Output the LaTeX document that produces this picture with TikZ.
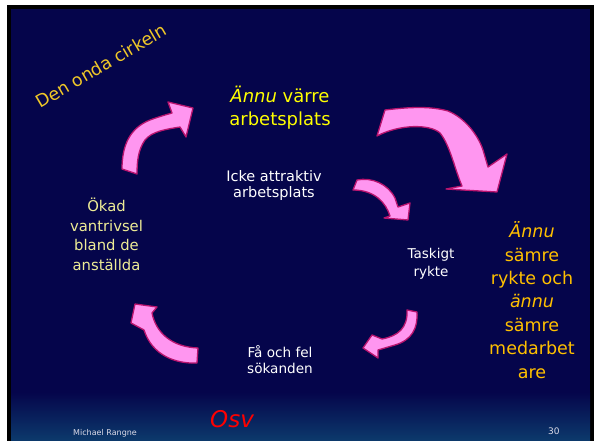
\documentclass[tikz,border=0pt]{standalone}
\usepackage{fontspec}
\setmainfont{DejaVu Sans}
\definecolor{navy}{RGB}{5,5,75}
\definecolor{footblue}{RGB}{12,58,108}
\definecolor{pinkA}{RGB}{255,150,240}
\definecolor{edgeM}{RGB}{185,20,110}
\definecolor{yelB}{RGB}{255,255,0}
\definecolor{goldT}{RGB}{240,200,40}
\definecolor{paleY}{RGB}{238,236,150}
\definecolor{orangeY}{RGB}{255,192,0}
\definecolor{footT}{RGB}{220,220,232}
\newcommand\myfs[2]{\fontsize{#1}{#2}\selectfont}
\tikzset{
  parrow/.style={fill=pinkA, draw=edgeM, line width=1.3pt, line join=round},
  txt/.style={align=center, inner sep=0pt}
}
\begin{document}
\begin{tikzpicture}[x=1pt,y=-1pt]
\useasboundingbox (0,0) rectangle (598,441);
\fill[white] (0,0) rectangle (598,441);
\fill[black] (7,5) rectangle (594,441);
\fill[navy] (11,9) rectangle (590,441);
\shade[top color=navy,bottom color=footblue] (11,392) rectangle (590,441);

% arrows
\path[parrow] (122,169) .. controls (122,145) and (130,128) .. (150,120)
  .. controls (158,117) and (165,115) .. (172,113) -- (168,102) -- (193,108)
  -- (186,137) -- (180,127) .. controls (168,129) and (152,131) .. (145,140)
  .. controls (138,150) and (137,162) .. (137,174) -- cycle;
\path[parrow] (385,110) .. controls (410,107) and (430,106) .. (448,111)
  .. controls (465,118) and (478,135) .. (483,150) -- (488,167) -- (507,154)
  -- (497,192) -- (446,189) -- (462,186) .. controls (455,170) and (450,145) .. (440,133)
  .. controls (430,124) and (400,124) .. (377,136) -- cycle;
\path[parrow] (357,180) .. controls (372,177) and (388,184) .. (395,198) -- (398,207)
  -- (410,203) -- (408,220) -- (384,218) -- (390,216)
  .. controls (386,203) and (375,190) .. (353,190) -- cycle;
\path[parrow] (407,310) -- (417,312) .. controls (418,328) and (412,340) .. (395,345)
  -- (378,350) -- (378,358) -- (363,348) -- (372,335) -- (382,339)
  .. controls (398,336) and (408,328) .. (407,310) -- cycle;
\path[parrow] (198,348) -- (197,363) .. controls (175,364) and (152,355) .. (144,330)
  -- (131,323) -- (135,304) -- (157,307) -- (152,313)
  .. controls (156,333) and (172,347) .. (198,348) -- cycle;

% texts
\node[txt, text=goldT, font=\myfs{17.5}{21}, anchor=base, rotate=30.4] (titel) at (104.5,71.5) {Den onda cirkeln};
\node[txt, text=yelB, font=\myfs{18}{23}] (varre) at (280,107.3) {\textit{Ännu} värre\\arbetsplats};
\node[txt, text=white, font=\myfs{14.5}{16}] (icke) at (274,185.7) {Icke attraktiv\\arbetsplats};
\node[txt, text=paleY, font=\myfs{14.8}{19.7}] (okad) at (106.5,234.3) {Ökad\\vantrivsel\\bland de\\anställda};
\node[txt, text=white, font=\myfs{13.5}{17.7}] (taskigt) at (431,263.6) {Taskigt\\rykte};
\node[txt, text=white, font=\myfs{13.6}{16}] (fa) at (280,359.3) {Få och fel\\sökanden};
\node[txt, text=orangeY, font=\myfs{17.5}{23.4}] (samre) at (532,300) {\textit{Ännu}\\sämre\\rykte och\\\textit{ännu}\\sämre\\medarbet\\are};
\node[txt, text=red, font=\myfs{23}{28}\itshape, anchor=base west] (osv) at (210,427) {Osv};
\node[txt, text=footT, font=\myfs{8}{10}, anchor=base west] (namn) at (73,435) {Michael Rangne};
\node[txt, text=footT, font=\myfs{9}{11}, anchor=base west] (sida) at (548,434) {30};
\end{tikzpicture}
\end{document}
